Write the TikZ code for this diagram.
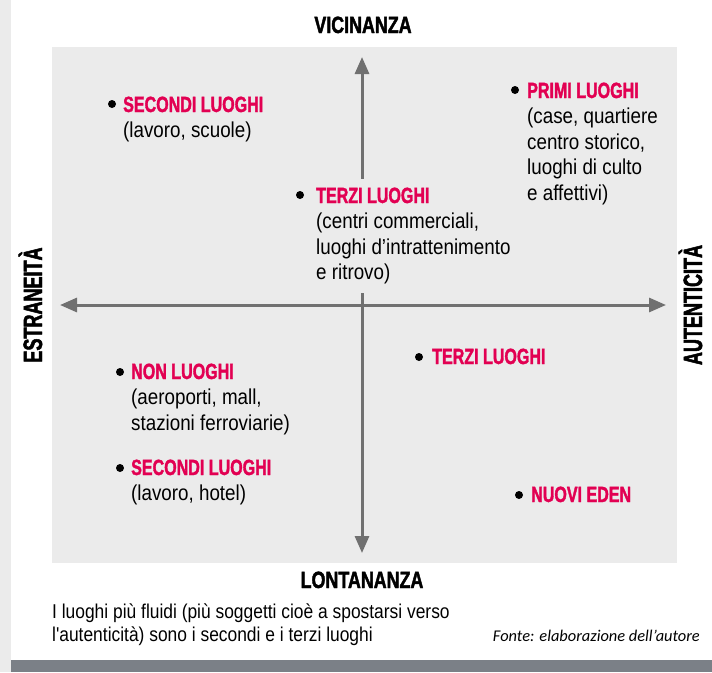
\documentclass[tikz,border=0pt]{standalone}
\usepackage{fontspec}
\setmainfont{Liberation Sans}
\newfontfamily\bodyf{Liberation Sans}[FakeStretch=0.87]
\newfontfamily\headf{Liberation Sans}[UprightFont={* Bold}, FakeStretch=0.73, FakeBold=1.6]
\newfontfamily\axisf{Liberation Sans}[UprightFont={* Bold}, FakeStretch=0.76, FakeBold=1.8]
\newfontfamily\sidef{Liberation Sans}[UprightFont={* Bold}, FakeStretch=0.68, FakeBold=1.8]
\newfontfamily\srcf{Carlito}
\usetikzlibrary{arrows.meta}
\definecolor{boxgray}{RGB}{235,235,235}
\definecolor{axisgray}{RGB}{112,112,112}
\definecolor{barcol}{RGB}{123,128,135}
\definecolor{hotpink}{RGB}{226,0,82}
\newcommand\placetxt[2]{\begin{tabular}[t]{@{}l@{}}{\headf\fontsize{22}{25.5}\selectfont\color{hotpink}#1}#2\end{tabular}}
\newcommand\linestxt[1]{\begin{tabular}[t]{@{}l@{}}#1\end{tabular}}
\tikzset{
  dot/.style={circle, fill=black, inner sep=0pt, minimum size=8pt},
  place/.style={anchor=base west, inner sep=0pt, text=black,
    font=\bodyf\fontsize{21.6}{25.5}\selectfont},
  axislab/.style={anchor=base, inner sep=0pt, font=\axisf\fontsize{23.5}{28}\selectfont},
  sidelab/.style={anchor=base, inner sep=0pt, rotate=90, font=\sidef\fontsize{26.5}{30}\selectfont},
  axisarrow/.style={draw=axisgray, line width=3pt, {Triangle[length=17pt,width=14pt]}-{Triangle[length=17pt,width=14pt]}, color=axisgray}
}
\begin{document}
\begin{tikzpicture}[x=1pt,y=-1pt]
\useasboundingbox (0,0) rectangle (712,672);
\fill[white] (0,0) rectangle (712,672);
\fill[boxgray] (0,0) rectangle (11,672);
\fill[barcol] (11,660) rectangle (712,672);
\fill[boxgray] (52,47) rectangle (677,563);

% axes
\coordinate (vt) at (362,57);
\coordinate (vb) at (362,553);
\coordinate (hl) at (60,305);
\coordinate (hr) at (666,305);
\draw[axisarrow] (vt) -- (vb);
\draw[axisarrow] (hl) -- (hr);

% axis labels
\node[axislab] (vic) at (363,33) {VICINANZA};
\node[axislab] (lon) at (362,588) {LONTANANZA};
\node[sidelab] (estr) at (42,305) {ESTRANEITÀ};
\node[sidelab] (aut) at (702,305) {AUTENTICITÀ};

% items
\node[dot] (ad) at (112,104) {};
\node[place] (a) at (123,112) {\placetxt{SECONDI LUOGHI}{\\(lavoro, scuole)}};

\node[dot] (bd) at (515,90) {};
\node[place] (b) at (527,98) {\placetxt{PRIMI LUOGHI}{\\(case, quartiere\\centro storico,\\luoghi di culto\\e affettivi)}};

\node[place, fill=boxgray, inner xsep=4pt, inner ysep=6pt, xshift=-4pt] (c) at (316,203) {\placetxt{TERZI LUOGHI}{\\(centri commerciali,\\luoghi d’intrattenimento\\e ritrovo)}};
\node[dot] (cd) at (300,195) {};

\node[dot] (dd) at (120,372) {};
\node[place] (d) at (131,379) {\placetxt{NON LUOGHI}{\\(aeroporti, mall,\\stazioni ferroviarie)}};

\node[dot] (ed) at (120,468) {};
\node[place] (e) at (131,475) {\placetxt{SECONDI LUOGHI}{\\(lavoro, hotel)}};

\node[dot] (fd) at (419,357) {};
\node[place] (f) at (432,364) {\placetxt{TERZI LUOGHI}{}};

\node[dot] (gd) at (519,495) {};
\node[place] (g) at (531,502) {\placetxt{NUOVI EDEN}{}};

% caption
\node[anchor=base west, inner sep=0pt, font=\bodyf\fontsize{20}{23}\selectfont] (cap) at (52,618)
  {\linestxt{I luoghi più fluidi (più soggetti cioè a spostarsi verso\\l'autenticità) sono i secondi e i terzi luoghi}};
\node[anchor=base east, inner sep=0pt, font=\srcf\itshape\fontsize{16.4}{19}\selectfont] (src) at (700,641)
  {Fonte: elaborazione dell’autore};
\end{tikzpicture}
\end{document}
